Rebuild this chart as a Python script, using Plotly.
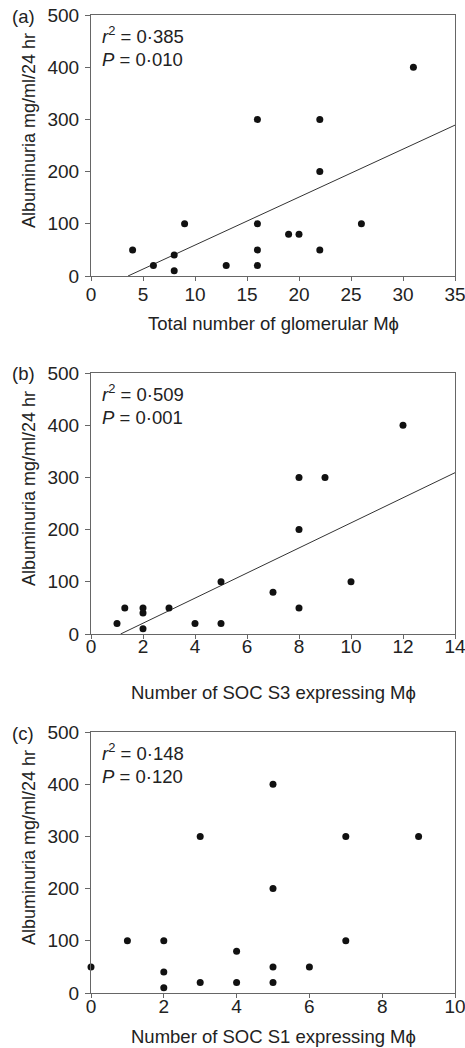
import plotly.graph_objects as go

# ---- data ----
a_x = [4, 6, 8, 8, 9, 13, 16, 16, 16, 16, 19, 20, 22, 22, 22, 26, 31]
a_y = [50, 20, 40, 10, 100, 20, 300, 100, 50, 20, 80, 80, 300, 200, 50, 100, 400]
a_fit_x = [3.56, 35]
a_fit_y = [0, 289]

b_x = [1, 1.3, 2, 2, 2, 3, 4, 5, 5, 7, 8, 8, 8, 9, 10, 12]
b_y = [20, 50, 50, 40, 10, 50, 20, 100, 20, 80, 300, 200, 50, 300, 100, 400]
b_fit_x = [1.14, 14]
b_fit_y = [0, 309]

c_x = [0, 1, 2, 2, 2, 3, 3, 4, 4, 5, 5, 5, 5, 6, 7, 7, 9]
c_y = [50, 100, 100, 40, 10, 300, 20, 80, 20, 400, 200, 50, 20, 50, 300, 100, 300]

x_titles = ["Total number of glomerular M\u03d5",
            "Number of SOC S3 expressing M\u03d5",
            "Number of SOC S1 expressing M\u03d5"]
y_title = "Albuminuria mg/ml/24 hr"
panel_labels = ["(a)", "(b)", "(c)"]
stats = [("0\u00b7385", "0\u00b7010"), ("0\u00b7509", "0\u00b7001"), ("0\u00b7148", "0\u00b7120")]
x_ranges = [(0, 35, 5), (0, 14, 2), (0, 10, 2)]
y_range = (0, 500, 100)

# ---- layout geometry (pixels) ----
W, H = 465, 1048
ML, MR, MT, MB = 91, 10, 15, 55
PH = H - MT - MB
plot_tops = [15, 373, 732]
plot_bots = [276, 634, 993]


def py(ypix):
    return (H - MB - ypix) / PH


def px(xpix):
    return (xpix - ML) / (W - ML - MR)


FONT = "Liberation Sans, Arial, Helvetica, sans-serif"
TXT = "#222222"
AX = "#666666"
TICK_FS = 19
TITLE_FS = 18.5
YTITLE_FS = 18
ANN_FS = 18.5

fig = go.Figure()

series = [(a_x, a_y, a_fit_x, a_fit_y), (b_x, b_y, b_fit_x, b_fit_y), (c_x, c_y, None, None)]
for i, (sx, sy, fx, fy) in enumerate(series):
    xa = "x" if i == 0 else f"x{i+1}"
    ya = "y" if i == 0 else f"y{i+1}"
    if fx is not None:
        fig.add_trace(go.Scatter(x=fx, y=fy, mode="lines", xaxis=xa, yaxis=ya,
                                 line=dict(color="#333333", width=1), showlegend=False,
                                 hoverinfo="skip"))
    fig.add_trace(go.Scatter(x=sx, y=sy, mode="markers", xaxis=xa, yaxis=ya,
                             marker=dict(color="#111111", size=7), showlegend=False,
                             cliponaxis=False))

layout = dict(width=W, height=H, margin=dict(l=ML, r=MR, t=MT, b=MB),
              paper_bgcolor="white", plot_bgcolor="white",
              font=dict(family=FONT, size=TITLE_FS, color=TXT), showlegend=False)

standoffs = [-3, -9, -8]
annotations = []
for i in range(3):
    sfx = "" if i == 0 else str(i + 1)
    x0, x1, dx = x_ranges[i]
    layout["xaxis" + sfx] = dict(
        domain=[0, 1], anchor="y" + sfx, range=[x0, x1], tick0=x0, dtick=dx,
        showgrid=False, zeroline=False, showline=True, mirror=True,
        linecolor=AX, linewidth=1, ticks="outside", ticklen=4, tickcolor=AX,
        tickfont=dict(size=TICK_FS, color=TXT), ticklabelstandoff=standoffs[i],
        automargin=False, ticklabeloverflow="allow",
    )
    layout["yaxis" + sfx] = dict(
        domain=[py(plot_bots[i]), py(plot_tops[i])], anchor="x" + sfx,
        range=[y_range[0], y_range[1]], tick0=0, dtick=y_range[2],
        showgrid=False, zeroline=False, showline=True, mirror=True,
        linecolor=AX, linewidth=1, ticks="outside", ticklen=5, tickcolor=AX,
        tickfont=dict(size=TICK_FS, color=TXT), ticklabelstandoff=2,
        automargin=False, ticklabeloverflow="allow",
    )
    # x-axis title
    title_y = [323, 692, 1036][i]
    annotations.append(dict(text=x_titles[i], xref="paper", yref="paper",
                            x=0.5, y=py(title_y), xanchor="center", yanchor="middle",
                            showarrow=False, font=dict(size=TITLE_FS, color=TXT)))
    # y-axis title
    annotations.append(dict(text=y_title, xref="paper", yref="paper",
                            x=px(29), y=py(plot_tops[i] + 116), xanchor="center",
                            yanchor="middle", textangle=-90, showarrow=False,
                            font=dict(size=YTITLE_FS, color=TXT)))
    # panel label
    annotations.append(dict(text=panel_labels[i], xref="paper", yref="paper",
                            x=px(23), y=py(plot_tops[i] + 1), xanchor="center",
                            yanchor="middle", showarrow=False,
                            font=dict(size=TITLE_FS, color=TXT)))
    # stats
    r2, p = stats[i]
    annotations.append(dict(text=f"<i>r</i><sup>2</sup> = {r2}", xref="x" + sfx + " domain",
                            yref="y" + sfx + " domain", x=0.025, y=0.923,
                            xanchor="left", yanchor="middle", showarrow=False,
                            font=dict(size=ANN_FS, color=TXT)))
    annotations.append(dict(text=f"<i>P</i> = {p}", xref="x" + sfx + " domain",
                            yref="y" + sfx + " domain", x=0.025, y=0.828,
                            xanchor="left", yanchor="middle", showarrow=False,
                            font=dict(size=ANN_FS, color=TXT)))

layout["annotations"] = annotations
fig.update_layout(**layout)
fig.write_html("out.html", config={"displayModeBar": False},
               post_script="document.body.style.margin='0px';document.body.style.overflow='hidden';")
